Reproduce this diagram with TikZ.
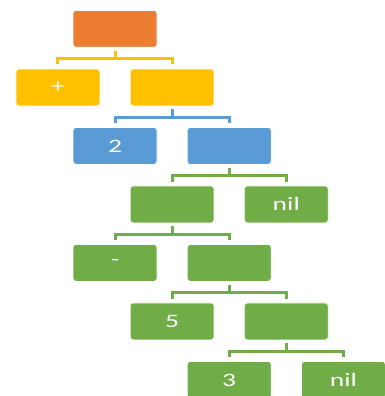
\documentclass[tikz,border=0pt]{standalone}
\usepackage{fontspec}
\setmainfont{Carlito}
\usepackage{graphicx}
\definecolor{cOrange}{HTML}{ED7D31}
\definecolor{cYellow}{HTML}{FFC000}
\definecolor{cBlue}{HTML}{5B9BD5}
\definecolor{cGreen}{HTML}{70AD47}
\newcommand{\lbl}[1]{\scalebox{1.45}[1]{\fontsize{19}{19}\selectfont #1}}
\tikzset{
  cell/.style={draw=white, line width=0.8pt, rounded corners=3pt,
    minimum width=84pt, minimum height=37pt, inner sep=0pt,
    anchor=north west, text=white, font=\fontsize{19}{19}\selectfont},
  link/.style={line width=3pt},
}
\begin{document}
\begin{tikzpicture}[x=1pt,y=1pt]
\useasboundingbox (0,0) rectangle (385,-396);
% column left edges: 15.5 + 57.1k ; row tops: 10 + 58.5r
\node[cell, fill=cOrange] (root) at (72.6,-10) {};
\node[cell, fill=cYellow] (plus) at (15.5,-68.5) {\lbl{+}};
\node[cell, fill=cYellow] (y1)   at (129.7,-68.5) {};
\node[cell, fill=cBlue]   (two)  at (72.6,-127) {\lbl{2}};
\node[cell, fill=cBlue]   (b1)   at (186.8,-127) {};
\node[cell, fill=cGreen]  (g1)   at (129.7,-185.5) {};
\node[cell, fill=cGreen]  (nilA) at (243.9,-185.5) {\lbl{nil}};
\node[cell, fill=cGreen]  (minus) at (72.6,-244) {\lbl{-}};
\node[cell, fill=cGreen]  (g2)   at (186.8,-244) {};
\node[cell, fill=cGreen]  (five) at (129.7,-302.5) {\lbl{5}};
\node[cell, fill=cGreen]  (g3)   at (243.9,-302.5) {};
\node[cell, fill=cGreen]  (three) at (186.8,-361) {\lbl{3}};
\node[cell, fill=cGreen]  (nilB) at (301,-361) {\lbl{nil}};
% elbow connectors: stub down from the parent, bar, drop to each child
\foreach \p/\a/\b/\c in {root/plus/y1/cYellow, y1/two/b1/cBlue,
    b1/g1/nilA/cGreen, g1/minus/g2/cGreen, g2/five/g3/cGreen,
    g3/three/nilB/cGreen}{
  \draw[link, \c] ([yshift=-3pt]\p.south) -- ++(0,-7.75) -| ([yshift=4pt]\a.north);
  \draw[link, \c] ([yshift=-3pt]\p.south) -- ++(0,-7.75) -| ([yshift=4pt]\b.north);
}
\end{tikzpicture}
\end{document}
